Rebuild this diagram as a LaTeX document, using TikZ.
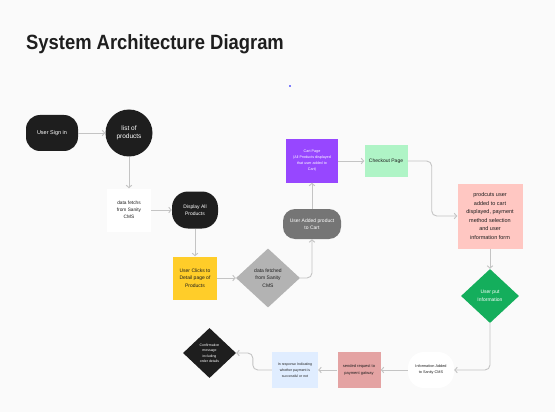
\documentclass[tikz,border=0pt]{standalone}
\usepackage{fontspec}
\setmainfont{Liberation Sans}
\usetikzlibrary{shapes.geometric,arrows.meta}
\definecolor{bg}{HTML}{FAFAFA}
\definecolor{ink}{HTML}{1E1E1E}
\definecolor{dgray}{HTML}{757575}
\definecolor{lgray}{HTML}{B3B3B3}
\definecolor{purp}{HTML}{9747FF}
\definecolor{mint}{HTML}{AFF4C6}
\definecolor{rose}{HTML}{FFC7C2}
\definecolor{gdk}{HTML}{14AE5C}
\definecolor{yel}{HTML}{FFCD29}
\definecolor{redl}{HTML}{E4A3A3}
\definecolor{bluel}{HTML}{E0EDFF}
\definecolor{wire}{HTML}{C4C4C4}
\newcommand\fsz[2]{\fontsize{#1}{#2}\selectfont}
\begin{document}
\begin{tikzpicture}[x=1pt,y=-1pt,
  base/.style={align=center, inner sep=1pt},
  blk/.style={base, fill=ink, text=white},
  boxw/.style={base, fill=white, text=ink},
  arr/.style={draw=wire, line width=0.9pt, -{Straight Barb[length=2.5pt,width=5.5pt]}, rounded corners=5pt},
  dia/.style={base, diamond, inner sep=0pt}
]
\fill[bg] (0,0) rectangle (555,412);
\useasboundingbox (0,0) rectangle (555,412);

\node[anchor=base west, inner sep=0pt, text=ink, font=\fsz{18.4}{22}\bfseries] (title) at (26,49.5) {\scalebox{1}[1.12]{System Architecture Diagram}};
\fill[blue] (290,86) circle (0.8pt);

\node[blk, minimum width=52pt, minimum height=36pt, rounded corners=14pt, font=\fsz{5.5}{7}] (sign) at (52,133) {User Sign in};
\node[blk, circle, minimum size=47pt, font=\fsz{6.5}{8.5}] (list) at (129,133) {list of\\products};
\node[boxw, minimum width=44pt, minimum height=43pt, font=\fsz{4.8}{7}] (data) at (129,210) {data fetchs\\from Sanity\\CMS};
\node[blk, minimum width=46pt, minimum height=37pt, rounded corners=16pt, font=\fsz{5}{7.5}] (disp) at (195,210) {Display All\\Products};
\node[base, fill=yel, text=ink, minimum width=44pt, minimum height=43pt, font=\fsz{5}{7.5}] (click) at (195,278) {User Clicks to\\Detail page of\\Products};
\node[dia, fill=lgray, text=ink, minimum width=64pt, minimum height=59pt, font=\fsz{5}{7.5}] (dfetch) at (268,278) {data fetched\\from Sanity\\CMS};
\node[base, fill=dgray, text=white, minimum width=58pt, minimum height=30pt, rounded corners=12pt, font=\fsz{5}{7.5}] (added) at (312,224) {User Added product\\to Cart};
\node[base, fill=purp, text=white, minimum width=52pt, minimum height=43pt, font=\fsz{3.7}{6}] (cart) at (312,161) {Cart Page\\(All Products displayed\\that user added to\\Cart)};
\node[base, fill=mint, text=ink, minimum width=43pt, minimum height=32pt, font=\fsz{5}{7}] (checkout) at (386,161) {Checkout Page};
\node[base, fill=rose, text=ink, minimum width=65pt, minimum height=65pt, font=\fsz{5.5}{8.5}] (pink) at (490,216) {prodcuts user\\added to cart\\displayed, payment\\method selection\\and user\\information form};
\node[dia, fill=gdk, text=white, minimum width=58pt, minimum height=54pt, font=\fsz{5}{7.5}] (gdia) at (490,296) {User put\\Information};
\node[boxw, minimum width=46pt, minimum height=36pt, rounded corners=16pt, font=\fsz{3.8}{6}] (info) at (431,370) {Information Added\\to Sanity CMS};
\node[base, fill=redl, text=ink, minimum width=43pt, minimum height=36pt, font=\fsz{4}{7}] (send) at (359,370) {sended request to\\payment gatway};
\node[base, fill=bluel, text=ink, minimum width=46pt, minimum height=36pt, font=\fsz{3.5}{6}] (resp) at (295,370) {In response Indicating\\whether payment is\\successful or not};
\node[dia, fill=ink, text=white, minimum width=53pt, minimum height=50pt, font=\fsz{3.5}{5.5}] (conf) at (209.5,353) {Confirmation\\message\\including\\order details};

\draw[arr] (sign) -- (list);
\draw[arr] (list) -- (data);
\draw[arr] (data) -- (disp);
\draw[arr] (disp) -- (click);
\draw[arr] (click) -- (dfetch);
\draw[arr] (dfetch.east) -| (added.south);
\draw[arr] (added) -- (cart);
\draw[arr] (cart) -- (checkout);
\draw[arr] (checkout.east) -- ++(24,0) |- (pink.west);
\draw[arr] (pink) -- (gdia);
\draw[arr] (gdia.south) |- (info.east);
\draw[arr] (info) -- (send);
\draw[arr] (send) -- (resp);
\draw[arr] (resp.west) -- ++(-19,0) |- (conf.east);
\end{tikzpicture}
\end{document}
